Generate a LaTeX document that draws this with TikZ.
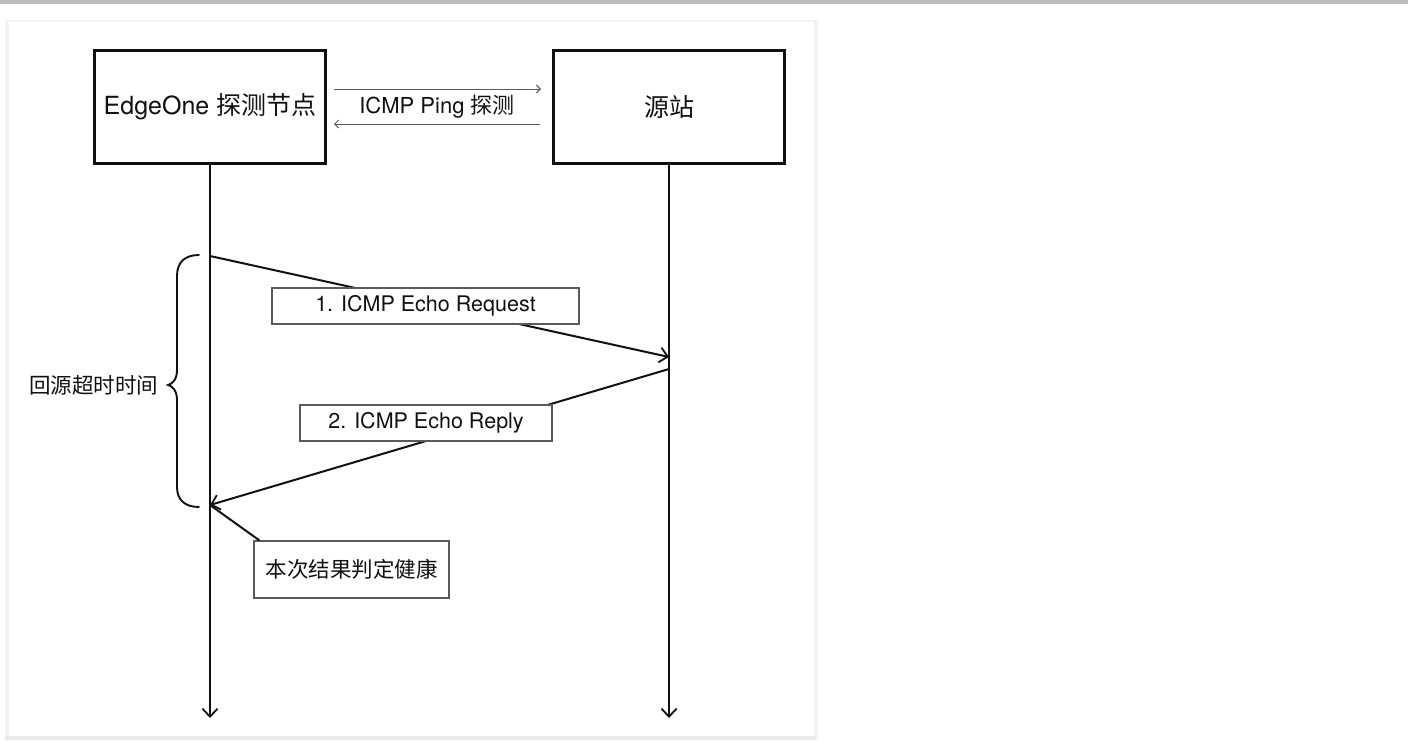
\documentclass[tikz,border=0pt]{standalone}
\usepackage{fontspec}
\setmainfont{TeX Gyre Heros}
\newfontfamily\cjk{Noto Sans CJK SC}
\usetikzlibrary{arrows.meta}
\definecolor{ink}{HTML}{111111}
\definecolor{lbl}{HTML}{5A5A5A}
\definecolor{topbar}{HTML}{BDBDBD}
\definecolor{panelline}{HTML}{F3F3F6}
\definecolor{panelbot}{HTML}{EAEAEE}
\tikzset{
  actor/.style={draw=ink, line width=2.4pt, fill=white, minimum width=231pt, minimum height=113pt, inner sep=0pt, font=\fontsize{25}{30}\selectfont, text=ink},
  msgbox/.style={draw=lbl, line width=1.2pt, fill=white, minimum height=36pt, inner sep=0pt, font=\fontsize{21.5}{26}\selectfont, text=ink},
  life/.style={draw=ink, line width=2pt, -{Straight Barb[length=8pt,width=15pt,line width=1.8pt]}},
  msg/.style={draw=ink, line width=2pt, -{Straight Barb[length=8pt,width=15pt,line width=1.8pt]}},
  thin/.style={draw=lbl, line width=1pt, -{Straight Barb[length=4pt,width=8pt,line width=1pt]}},
  plain/.style={font=\fontsize{21.5}{26}\selectfont, text=ink, inner sep=0pt}
}
\begin{document}
\begin{tikzpicture}[x=1pt,y=-1pt]
\useasboundingbox (0,0) rectangle (1408,740);
\fill[white] (0,0) rectangle (1408,740);
\fill[topbar] (0,0) rectangle (1408,3.5);
\fill[panelline] (5,20) rectangle (818,740);
\fill[panelbot] (5,736) rectangle (816,740);
\fill[white] (9,22) rectangle (814,736);

\node[actor] (edge) at (210,107) {EdgeOne {\cjk 探测节点}};
\node[actor] (src) at (669,107) {\cjk 源站};

\coordinate (p1a) at (334,89);
\coordinate (p1b) at (541,89);
\coordinate (p2a) at (540,124);
\coordinate (p2b) at (334,124);
\draw[thin] (p1a) -- (p1b);
\draw[thin] (p2a) -- (p2b);
\node[plain, font=\fontsize{22}{26}\selectfont] (ping) at (437,107) {ICMP Ping {\cjk 探测}};

\coordinate (eEnd) at (210,718);
\coordinate (sEnd) at (669,718);
\draw[life] (edge.south) -- (eEnd);
\draw[life] (src.south) -- (sEnd);

\coordinate (reqS) at (210,256);
\coordinate (reqE) at (669,357);
\coordinate (repS) at (669,369);
\coordinate (repE) at (210,505);
\draw[msg] (reqS) -- (reqE);
\draw[msg] (repS) -- (repE);
\node[msgbox, minimum width=307pt] (req) at (425.5,306) {1. ICMP Echo Request};
\node[msgbox, minimum width=252pt] (rep) at (426,423) {2. ICMP Echo Reply};

\node[msgbox, minimum width=195pt, minimum height=57pt] (note) at (351.5,569.5) {\cjk 本次结果判定健康};
\draw[draw=ink, line width=2pt] (repE) -- ([xshift=6pt]note.north west);

\draw[draw=ink, line width=1.9pt, line cap=round]
  (199,255) .. controls (185,255) and (177,262) .. (177,276)
  -- (177,370) .. controls (177,380) and (172,384) .. (168,385)
  .. controls (172,386) and (177,390) .. (177,400)
  -- (177,487) .. controls (177,500) and (185,507) .. (199,507);
\node[plain] (tmo) at (93.5,385) {\cjk 回源超时时间};
\end{tikzpicture}
\end{document}
